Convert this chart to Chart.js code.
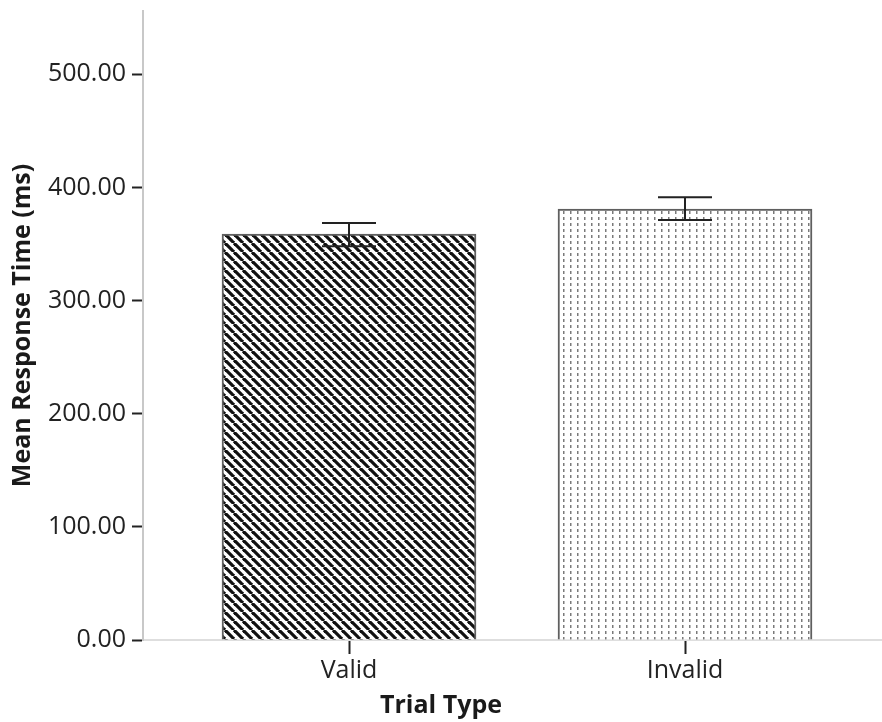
<!DOCTYPE html>
<html>
<head>
<meta charset="utf-8">
<title>Mean Response Time by Trial Type</title>
<script src="https://cdn.jsdelivr.net/npm/chart.js@4.4.0/dist/chart.umd.min.js"></script>
<style>
  html, body { margin: 0; padding: 0; background: #fff; }
  #wrap { width: 882px; height: 722px; }
</style>
</head>
<body>
<div id="wrap"><canvas id="chart" width="882" height="722"></canvas></div>
<script>
// data
const categories = ['Valid', 'Invalid'];
const meanRT = [358.7, 381.0];
const ciLow = [348.1, 371.3];
const ciHigh = [368.6, 391.3];
const yTicks = [0, 100, 200, 300, 400, 500];

const FONT = "'Open Sans', 'DejaVu Sans', sans-serif";

// hatch fill for the Valid bar
function stripes(){
  const c = document.createElement('canvas'); c.width = 9; c.height = 9;
  const g = c.getContext('2d');
  g.fillStyle = '#fff'; g.fillRect(0,0,9,9);
  g.strokeStyle = '#111'; g.lineWidth = 3.2;
  for(let k=-1;k<=1;k++){ g.beginPath(); g.moveTo(k*9,0); g.lineTo(k*9+9,9); g.stroke(); }
  return g.createPattern(c, 'repeat');
}

// small dotted columns for the Invalid bar
function dots(){
  const c = document.createElement('canvas'); c.width = 7; c.height = 6;
  const g = c.getContext('2d');
  g.fillStyle = '#fff'; g.fillRect(0,0,7,6);
  g.fillStyle = '#7a7a7a'; g.fillRect(3,1,1.5,3);
  return g.createPattern(c, 'repeat');
}

const errorBars = {
  id: 'errorBars',
  afterDatasetsDraw(chart){
    const {ctx, scales:{x, y}} = chart;
    ctx.save();
    ctx.strokeStyle = '#222'; ctx.lineWidth = 2;
    categories.forEach((c,i) => {
      const px = x.getPixelForValue(i);
      const lo = y.getPixelForValue(ciLow[i]), hi = y.getPixelForValue(ciHigh[i]);
      ctx.beginPath();
      ctx.moveTo(px, lo); ctx.lineTo(px, hi);
      ctx.moveTo(px-27, lo); ctx.lineTo(px+27, lo);
      ctx.moveTo(px-27, hi); ctx.lineTo(px+27, hi);
      ctx.stroke();
    });
    ctx.restore();
  }
};

const noPad = s => { s.paddingTop = 0; s.paddingBottom = 0; s.paddingLeft = 0; s.paddingRight = 0; };

new Chart(document.getElementById('chart'), {
  type: 'bar',
  data: {
    datasets: [{
      data: meanRT.map((v,i) => ({x: i, y: v})),
      backgroundColor: [stripes(), dots()],
      borderColor: '#5f5f5f',
      borderWidth: 2,
      barThickness: 254
    }]
  },
  plugins: [errorBars],
  options: {
    responsive: false,
    animation: false,
    layout: { padding: { top: 11, left: 0, right: 0, bottom: 0 } },
    plugins: {
      legend: { display: false },
      tooltip: { enabled: false },
      title: {
        display: true, position: 'bottom', text: 'Trial Type', color: '#1a1a1a',
        font: { family: FONT, size: 25, weight: 'bold', lineHeight: 1.2 },
        padding: { top: 0, bottom: 1 }
      }
    },
    scales: {
      x: {
        type: 'linear', min: -0.6131, max: 1.5863, offset: false,
        afterBuildTicks: s => { s.ticks = categories.map((c,i) => ({value: i})); },
        afterFit: s => { s.height = 51; noPad(s); },
        grid: { offset: false, drawOnChartArea: false, tickLength: 14, tickWidth: 2, tickColor: '#222' },
        border: { color: '#dedede', width: 2 },
        ticks: { callback: v => categories[v] ?? '', color: '#222', padding: 2, maxRotation: 0,
                 font: { family: FONT, size: 25 } }
      },
      y: {
        min: 0, max: 556,
        afterBuildTicks: s => { s.ticks = yTicks.map(v => ({value: v})); },
        afterFit: s => { s.width = 143; noPad(s); },
        grid: { drawOnChartArea: false, tickLength: 11, tickWidth: 2, tickColor: '#222' },
        border: { color: '#c8c8c8', width: 2 },
        ticks: { callback: v => v.toFixed(2), color: '#222', padding: 6,
                 font: { family: FONT, size: 25 } },
        title: {
          display: true, text: 'Mean Response Time (ms)', color: '#1a1a1a',
          font: { family: FONT, size: 25, weight: 'bold', lineHeight: 1.2 },
          padding: { top: 8, bottom: 0 }
        }
      }
    }
  }
});
</script>
</body>
</html>
